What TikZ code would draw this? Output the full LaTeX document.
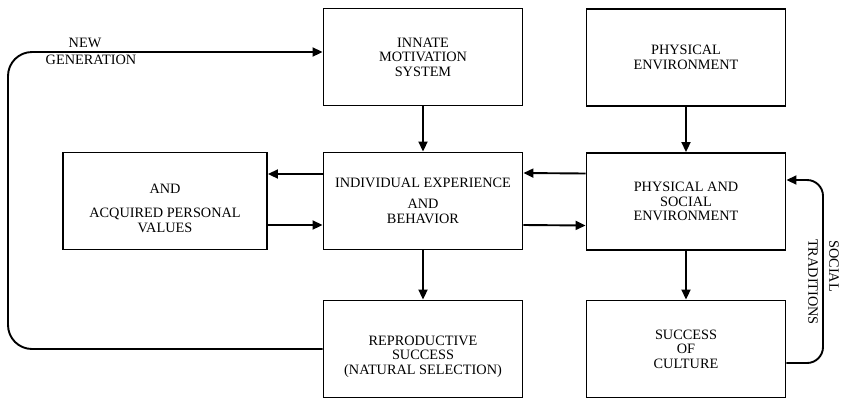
\documentclass[tikz,border=0pt]{standalone}
\usepackage{fontspec}
\setmainfont{Liberation Serif}
\usetikzlibrary{arrows.meta}
\tikzset{
  box/.style={draw, line width=1.9pt, minimum width=199pt, minimum height=97pt, align=center, inner sep=0pt},
  arr/.style={line width=1.9pt, -{Triangle[length=10pt,width=9pt]}},
  lbl/.style={align=center, inner sep=0pt}
}
\begin{document}
\begin{tikzpicture}[x=1pt,y=-1pt,font=\fontsize{14.3}{14.5}\selectfont]
\useasboundingbox (0,0) rectangle (842,400);
% draw the boxes
\node[box] (inn) at (423,57) {INNATE\\MOTIVATION\\SYSTEM};
\node[box] (env) at (686,57.5) {PHYSICAL\\ENVIRONMENT};
\node[box,minimum width=204pt] (acq) at (165,201) {\rule{0pt}{24pt}AND\\[9.5pt]ACQUIRED PERSONAL\\VALUES};
\node[box] (ind) at (423,201) {INDIVIDUAL EXPERIENCE\\[6.5pt]AND\\BEHAVIOR};
\node[box] (soc) at (686,201.5) {PHYSICAL AND\\SOCIAL\\ENVIRONMENT};
\node[box] (rep) at (423,349) {\rule{0pt}{25pt}REPRODUCTIVE\\SUCCESS\\(NATURAL SELECTION)};
\node[box] (cul) at (686,349) {SUCCESS\\OF\\CULTURE};
% draw the arrows between the boxes
\draw[arr] (inn) -- (ind);
\draw[arr] (env) -- (soc);
\draw[arr] (ind) -- (rep);
\draw[arr] (soc) -- (cul);
\draw[arr] ([yshift=27pt]ind.west) -- ([yshift=27pt]acq.east);
\draw[arr] ([yshift=-24pt]acq.east) -- ([yshift=-24pt]ind.west);
\draw[arr] ([yshift=28pt]soc.west) -- ([yshift=28pt]ind.east);
\draw[arr] ([yshift=-24pt]ind.east) -- ([yshift=-24pt]soc.west);
% the two feedback loops
\coordinate (ng) at (8,52);
\draw[arr,rounded corners=24pt] (rep.west) -| (ng) -- (ng -| inn.west);
\coordinate (st) at (823,180);
\draw[arr,rounded corners=16pt] ([yshift=-14pt]cul.east) -| (st) -- (st -| soc.east);
% loop labels
\node[lbl] (new) at (85,43) {NEW};
\node[lbl] (gen) at (91,60) {GENERATION};
\node[lbl,rotate=-90] (soctxt) at (834,266) {SOCIAL};
\node[lbl,rotate=-90] (trad) at (813,282) {TRADITIONS};
\end{tikzpicture}
\end{document}
